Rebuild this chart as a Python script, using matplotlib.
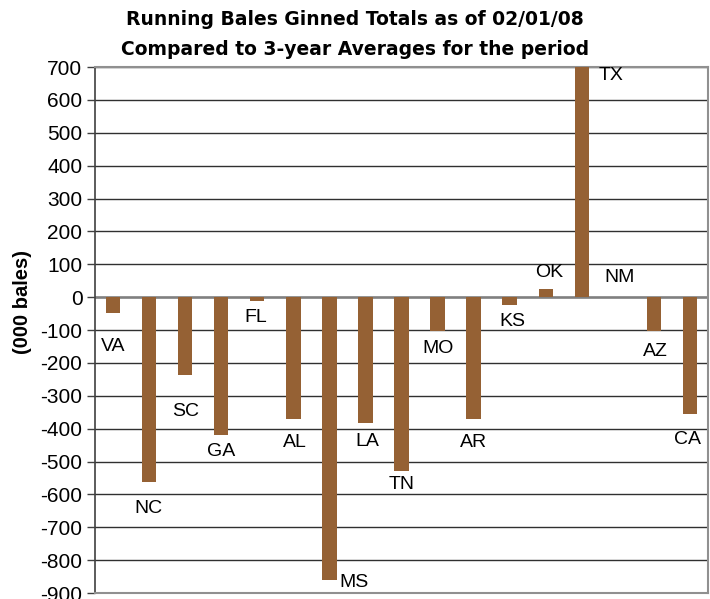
import matplotlib.pyplot as plt
import numpy as np

plt.rcParams['font.family'] = ['Liberation Sans', 'DejaVu Sans']
plt.rcParams['axes.unicode_minus'] = False

# data: difference from 3-year average, thousand bales
states = ["VA", "NC", "SC", "GA", "FL", "AL", "MS", "LA", "TN",
          "MO", "AR", "KS", "OK", "TX", "NM", "AZ", "CA"]
diff = [-48, -561, -237, -420, -12, -372, -860, -384, -530,
        -103, -372, -24, 24, 700, 0, -103, -354]

# where each state name sits (x shift in category units, y in data units)
label_dx = [0, -0.03, 0, 0, -0.05, 0.03, 0.69, 0.05, 0.01,
            0, 0, 0.08, 0.1, 0.82, 0.05, 0.05, -0.07]
label_y = [-150, -644, -348, -470, -61, -443, -867, -440, -571,
           -156, -443, -73, 76, 675, 61, -165, -433]

bar_color = "#956134"

fig = plt.figure(figsize=(7.10, 5.99), dpi=100)
ax = fig.add_axes([0.1338, 0.0100, 0.8634, 0.8781])

x = np.arange(len(states))
ax.bar(x, diff, width=0.4, color=bar_color, zorder=3)

for i, s in enumerate(states):
    ax.text(x[i] + label_dx[i], label_y[i], s, ha="center", va="center",
            fontsize=14, color="black", zorder=4)

ax.set_xlim(-0.5, len(states) - 0.5)
ax.set_ylim(-900, 700)
ax.set_yticks(np.arange(-900, 701, 100))
ax.tick_params(axis="y", labelsize=15, length=6, width=1, color="#404040", pad=3)
ax.set_xticks([])
ax.yaxis.grid(True, color="#303030", linewidth=1, zorder=0)
ax.set_axisbelow(True)
ax.axhline(0, color="#808080", linewidth=1.8, zorder=2)

for side in ["right", "bottom", "top"]:
    ax.spines[side].set_color("#909090")
    ax.spines[side].set_linewidth(1.5)
ax.spines["left"].set_color("#404040")
ax.spines["left"].set_linewidth(1.2)

ax.set_ylabel("(000 bales)", fontsize=14.5, fontweight="bold")
ax.yaxis.set_label_coords(-0.103, 0.553)

fig.text(0.5, 0.958, "Running Bales Ginned Totals as of 02/01/08",
         ha="center", va="baseline", fontsize=13.5, fontweight="bold",
         family="DejaVu Sans")
fig.text(0.5, 0.908, "Compared to 3-year Averages for the period",
         ha="center", va="baseline", fontsize=13.5, fontweight="bold",
         family="DejaVu Sans")

fig.savefig("out.png", dpi=100)
